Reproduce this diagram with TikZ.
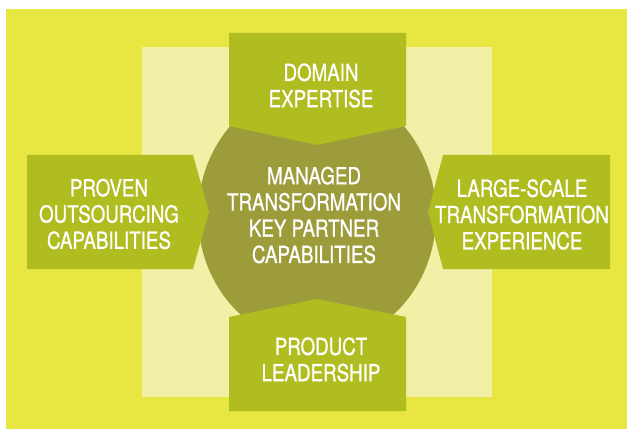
\documentclass[tikz,border=0pt]{standalone}
\usepackage{fontspec}
\setmainfont{TeX Gyre Heros}[FakeStretch=0.8, FakeBold=0.8]

\definecolor{fondo}{HTML}{E8E641}
\definecolor{palido}{HTML}{F0F0A6}
\definecolor{verde}{HTML}{AFBD21}
\definecolor{oliva}{HTML}{9D9C3B}

\begin{document}
\begin{tikzpicture}[x=0.03cm, y=-0.03cm,
    etiqueta/.style={text=white, align=center, inner sep=0pt,
      font=\fontsize{20}{22.4}\selectfont}]
  \useasboundingbox (0,0) rectangle (627,429);
  \fill[fondo] (6,9) rectangle (627,429);
  \fill[palido] (142,47) rectangle (492,397);

  % centre
  \fill[oliva] (317,215) ellipse [x radius=119, y radius=130];

  % four arrow boxes
  \fill[verde] (229,33) -- (406,33) -- (406,126) -- (317,145) -- (229,126) -- cycle;
  \fill[verde] (229,317) -- (317,299) -- (406,317) -- (406,411) -- (229,411) -- cycle;
  \fill[verde] (27,155) -- (193,155) -- (209,212) -- (193,269) -- (27,269) -- cycle;
  \fill[verde] (443,155) -- (610,155) -- (610,269) -- (443,269) -- (428,212) -- cycle;

  \node[etiqueta] (centro) at (314,215) {MANAGED\\TRANSFORMATION\\KEY PARTNER\\CAPABILITIES};
  \node[etiqueta] (arriba) at (321,85.5) {DOMAIN\\EXPERTISE};
  \node[etiqueta] (abajo) at (321,359.5) {PRODUCT\\LEADERSHIP};
  \node[etiqueta] (izq) at (109,214) {PROVEN\\OUTSOURCING\\CAPABILITIES};
  \node[etiqueta] (der) at (522,214.5) {LARGE-SCALE\\TRANSFORMATION\\EXPERIENCE};
\end{tikzpicture}
\end{document}
